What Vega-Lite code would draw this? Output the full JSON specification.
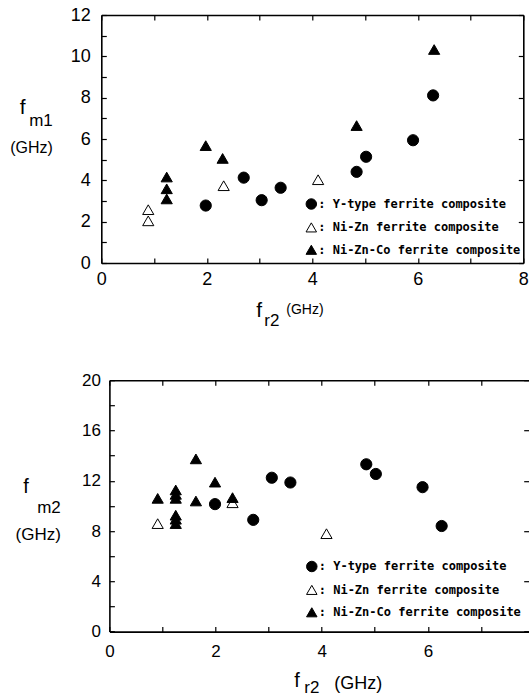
{
  "$schema": "https://vega.github.io/schema/vega-lite/v6.json",
  "background": "white",
  "padding": {"left": 9.3, "top": 6, "right": 0, "bottom": 0},
  "bounds": "flush",
  "spacing": 117.2,
  "config": {
    "view": {"stroke": null},
    "font": "Liberation Sans",
    "axis": {
      "grid": false,
      "domainColor": "black",
      "domainWidth": 1.6,
      "tickColor": "black",
      "tickWidth": 1.2,
      "tickSize": -5,
      "labelColor": "black",
      "labelFont": "Liberation Sans",
      "titleFont": "Liberation Sans",
      "titleColor": "black",
      "titleFontWeight": "normal",
      "titleAngle": 0,
      "titleAlign": "left",
      "titleBaseline": "alphabetic",
      "labelFlush": false,
      "labelOverlap": false
    },
    "legend": {
      "title": null,
      "orient": "none",
      "padding": 0,
      "rowPadding": 8.4,
      "symbolSize": 110,
      "symbolStrokeColor": "black",
      "symbolStrokeWidth": 1,
      "labelFont": "DejaVu Sans Mono",
      "labelFontWeight": "bold",
      "labelFontSize": 12,
      "labelColor": "black",
      "labelOffset": 1,
      "labelLimit": 400
    }
  },
  "datasets": {
    "top": [
      {"fr2": 1.98, "fm1": 2.78, "type": "Y-type ferrite composite"},
      {"fr2": 2.70, "fm1": 4.13, "type": "Y-type ferrite composite"},
      {"fr2": 3.04, "fm1": 3.04, "type": "Y-type ferrite composite"},
      {"fr2": 3.40, "fm1": 3.64, "type": "Y-type ferrite composite"},
      {"fr2": 4.84, "fm1": 4.41, "type": "Y-type ferrite composite"},
      {"fr2": 5.02, "fm1": 5.14, "type": "Y-type ferrite composite"},
      {"fr2": 5.91, "fm1": 5.94, "type": "Y-type ferrite composite"},
      {"fr2": 6.29, "fm1": 8.11, "type": "Y-type ferrite composite"},
      {"fr2": 0.89, "fm1": 2.58, "type": "Ni-Zn ferrite composite"},
      {"fr2": 0.89, "fm1": 2.04, "type": "Ni-Zn ferrite composite"},
      {"fr2": 2.32, "fm1": 3.74, "type": "Ni-Zn ferrite composite"},
      {"fr2": 4.11, "fm1": 4.03, "type": "Ni-Zn ferrite composite"},
      {"fr2": 1.24, "fm1": 4.16, "type": "Ni-Zn-Co ferrite composite"},
      {"fr2": 1.24, "fm1": 3.59, "type": "Ni-Zn-Co ferrite composite"},
      {"fr2": 1.24, "fm1": 3.10, "type": "Ni-Zn-Co ferrite composite"},
      {"fr2": 1.98, "fm1": 5.68, "type": "Ni-Zn-Co ferrite composite"},
      {"fr2": 2.30, "fm1": 5.06, "type": "Ni-Zn-Co ferrite composite"},
      {"fr2": 4.84, "fm1": 6.65, "type": "Ni-Zn-Co ferrite composite"},
      {"fr2": 6.31, "fm1": 10.33, "type": "Ni-Zn-Co ferrite composite"}
    ],
    "bottom": [
      {"fr2": 1.99, "fm2": 10.14, "type": "Y-type ferrite composite"},
      {"fr2": 2.71, "fm2": 8.89, "type": "Y-type ferrite composite"},
      {"fr2": 3.06, "fm2": 12.24, "type": "Y-type ferrite composite"},
      {"fr2": 3.41, "fm2": 11.86, "type": "Y-type ferrite composite"},
      {"fr2": 4.84, "fm2": 13.31, "type": "Y-type ferrite composite"},
      {"fr2": 5.02, "fm2": 12.54, "type": "Y-type ferrite composite"},
      {"fr2": 5.90, "fm2": 11.49, "type": "Y-type ferrite composite"},
      {"fr2": 6.26, "fm2": 8.40, "type": "Y-type ferrite composite"},
      {"fr2": 0.91, "fm2": 8.59, "type": "Ni-Zn ferrite composite"},
      {"fr2": 2.32, "fm2": 10.25, "type": "Ni-Zn ferrite composite"},
      {"fr2": 4.09, "fm2": 7.79, "type": "Ni-Zn ferrite composite"},
      {"fr2": 0.91, "fm2": 10.6, "type": "Ni-Zn-Co ferrite composite"},
      {"fr2": 1.25, "fm2": 11.27, "type": "Ni-Zn-Co ferrite composite"},
      {"fr2": 1.25, "fm2": 10.92, "type": "Ni-Zn-Co ferrite composite"},
      {"fr2": 1.25, "fm2": 10.6, "type": "Ni-Zn-Co ferrite composite"},
      {"fr2": 1.25, "fm2": 9.26, "type": "Ni-Zn-Co ferrite composite"},
      {"fr2": 1.25, "fm2": 8.94, "type": "Ni-Zn-Co ferrite composite"},
      {"fr2": 1.25, "fm2": 8.59, "type": "Ni-Zn-Co ferrite composite"},
      {"fr2": 1.63, "fm2": 13.74, "type": "Ni-Zn-Co ferrite composite"},
      {"fr2": 1.63, "fm2": 10.39, "type": "Ni-Zn-Co ferrite composite"},
      {"fr2": 1.99, "fm2": 11.89, "type": "Ni-Zn-Co ferrite composite"},
      {"fr2": 2.32, "fm2": 10.66, "type": "Ni-Zn-Co ferrite composite"}
    ]
  },
  "resolve": {
    "scale": {"x": "independent", "y": "independent", "shape": "independent", "fill": "independent", "stroke": "independent"},
    "legend": {"shape": "independent", "fill": "independent", "stroke": "independent"}
  },
  "vconcat": [
    {
      "width": 422,
      "height": 248,
      "data": {"name": "top"},
      "title": {
        "text": "m1",
        "subtitle": "(GHz)",
        "orient": "top",
        "anchor": "start",
        "frame": "group",
        "align": "right",
        "dx": -48.5,
        "dy": 151,
        "offset": 0,
        "font": "Liberation Sans",
        "fontSize": 17,
        "fontWeight": "normal",
        "color": "black",
        "subtitleFont": "Liberation Sans",
        "subtitleFontSize": 16,
        "subtitleColor": "black",
        "subtitlePadding": 10.5
      },
      "layer": [
        {
          "mark": {"type": "point", "filled": true, "size": 125, "strokeWidth": 1, "opacity": 1},
          "encoding": {
            "x": {
              "field": "fr2", "type": "quantitative",
              "scale": {"domain": [0, 8], "nice": false},
              "axis": {
                "orient": "bottom", "values": [0, 1, 2, 3, 4, 5, 6, 7, 8],
                "labelExpr": "datum.value % 2 === 0 ? datum.label : ''",
                "labelFontSize": 18, "labelPadding": 12,
                "title": "f", "titleFontSize": 21, "titleX": 154.5, "titleY": 53
              }
            },
            "y": {
              "field": "fm1", "type": "quantitative",
              "scale": {"domain": [0, 12], "nice": false},
              "axis": {
                "orient": "left", "values": [0, 1, 2, 3, 4, 5, 6, 7, 8, 9, 10, 11, 12],
                "labelExpr": "datum.value % 2 === 0 ? datum.label : ''",
                "labelFontSize": 18, "labelPadding": 16,
                "title": "f", "titleFontSize": 21, "titleX": -82, "titleY": 98
              }
            },
            "shape": {
              "field": "type", "type": "nominal",
              "scale": {"domain": ["Y-type ferrite composite", "Ni-Zn ferrite composite", "Ni-Zn-Co ferrite composite"], "range": ["circle", "triangle-up", "triangle-up"]},
              "legend": {"legendX": 204, "legendY": 183, "labelExpr": "': ' + datum.label"}
            },
            "fill": {
              "field": "type", "type": "nominal",
              "scale": {"domain": ["Y-type ferrite composite", "Ni-Zn ferrite composite", "Ni-Zn-Co ferrite composite"], "range": ["black", "white", "black"]},
              "legend": {"legendX": 204, "legendY": 183, "labelExpr": "': ' + datum.label"}
            },
            "stroke": {
              "field": "type", "type": "nominal",
              "scale": {"domain": ["Y-type ferrite composite", "Ni-Zn ferrite composite", "Ni-Zn-Co ferrite composite"], "range": ["black", "black", "black"]},
              "legend": {"legendX": 204, "legendY": 183, "labelExpr": "': ' + datum.label"}
            }
          }
        },
        {
          "mark": {"type": "point", "opacity": 0},
          "encoding": {
            "x": {
              "field": "fr2", "type": "quantitative",
              "axis": {
                "orient": "top", "values": [0, 1, 2, 3, 4, 5, 6, 7, 8], "labels": false,
                "title": "r2", "titleFontSize": 17, "titleX": 162.5, "titleY": 310
              }
            },
            "y": {
              "field": "fm1", "type": "quantitative",
              "axis": {
                "orient": "right", "values": [0, 2, 4, 6, 8, 10, 12], "labels": false,
                "title": "(GHz)", "titleFontSize": 14, "titleX": -237.5, "titleY": 298
              }
            }
          }
        }
      ],
      "resolve": {"axis": {"x": "independent", "y": "independent"}}
    },
    {
      "width": 427.4,
      "height": 251.4,
      "data": {"name": "bottom"},
      "title": {
        "text": "m2",
        "subtitle": "(GHz)",
        "orient": "top",
        "anchor": "start",
        "frame": "group",
        "align": "right",
        "dx": -40.5,
        "dy": 172.5,
        "offset": 0,
        "font": "Liberation Sans",
        "fontSize": 17,
        "fontWeight": "normal",
        "color": "black",
        "subtitleFont": "Liberation Sans",
        "subtitleFontSize": 17,
        "subtitleColor": "black",
        "subtitlePadding": 10
      },
      "layer": [
        {
          "mark": {"type": "point", "filled": true, "size": 125, "strokeWidth": 1, "opacity": 1},
          "encoding": {
            "x": {
              "field": "fr2", "type": "quantitative",
              "scale": {"domain": [0, 7.9], "range": [8.1, 427.4], "nice": false},
              "axis": {
                "orient": "bottom", "values": [0, 1, 2, 3, 4, 5, 6, 7],
                "labelExpr": "datum.value % 2 === 0 ? datum.label : ''",
                "labelFontSize": 17, "labelPadding": 17,
                "title": "f", "titleFontSize": 20, "titleX": 192.5, "titleY": 55
              }
            },
            "y": {
              "field": "fm2", "type": "quantitative",
              "scale": {"domain": [0, 20], "nice": false},
              "axis": {
                "orient": "left", "offset": -8.1, "values": [0, 2, 4, 6, 8, 10, 12, 14, 16, 18, 20],
                "labelExpr": "datum.value % 4 === 0 ? datum.label : ''",
                "labelFontSize": 17, "labelPadding": 14,
                "title": "f", "titleFontSize": 20, "titleX": -86.6, "titleY": 112.8
              }
            },
            "shape": {
              "field": "type", "type": "nominal",
              "scale": {"domain": ["Y-type ferrite composite", "Ni-Zn ferrite composite", "Ni-Zn-Co ferrite composite"], "range": ["circle", "triangle-up", "triangle-up"]},
              "legend": {"legendX": 204.5, "legendY": 180.3, "labelExpr": "': ' + datum.label"}
            },
            "fill": {
              "field": "type", "type": "nominal",
              "scale": {"domain": ["Y-type ferrite composite", "Ni-Zn ferrite composite", "Ni-Zn-Co ferrite composite"], "range": ["black", "white", "black"]},
              "legend": {"legendX": 204.5, "legendY": 180.3, "labelExpr": "': ' + datum.label"}
            },
            "stroke": {
              "field": "type", "type": "nominal",
              "scale": {"domain": ["Y-type ferrite composite", "Ni-Zn ferrite composite", "Ni-Zn-Co ferrite composite"], "range": ["black", "black", "black"]},
              "legend": {"legendX": 204.5, "legendY": 180.3, "labelExpr": "': ' + datum.label"}
            }
          }
        },
        {
          "mark": {"type": "point", "opacity": 0},
          "encoding": {
            "x": {
              "field": "fr2", "type": "quantitative",
              "axis": {
                "orient": "top", "values": [0, 1, 2, 3, 4, 5, 6, 7], "labels": false,
                "title": "r2", "titleFontSize": 17, "titleX": 202.5, "titleY": 312.3
              }
            },
            "y": {
              "field": "fm2", "type": "quantitative",
              "axis": {
                "orient": "right", "values": [0, 4, 8, 12, 16, 20], "labels": false, "domain": false,
                "title": "(GHz)", "titleFontSize": 18, "titleX": -194.9, "titleY": 308.8
              }
            }
          }
        }
      ],
      "resolve": {"axis": {"x": "independent", "y": "independent"}}
    }
  ]
}
